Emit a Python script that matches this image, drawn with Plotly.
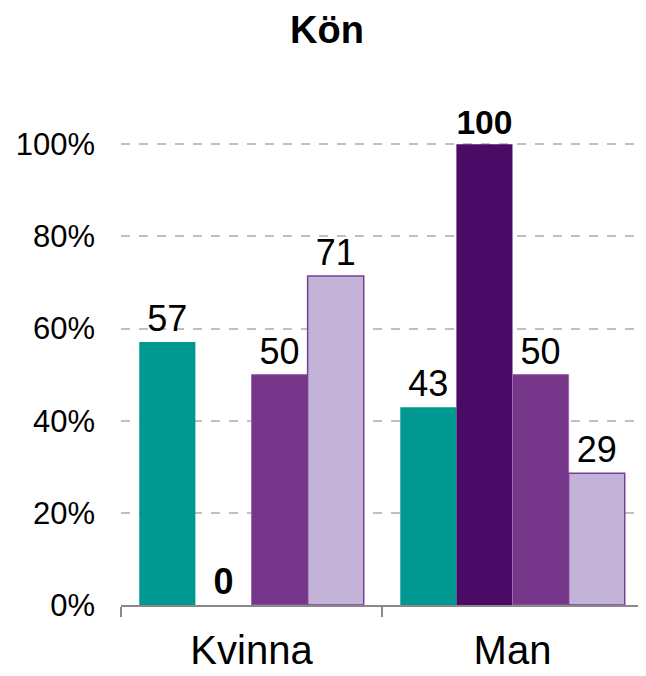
import plotly.graph_objects as go

categories = ["Kvinna", "Man"]
series_names = ["Serie 1", "Serie 2", "Serie 3", "Serie 4"]
series_values = [
    [57.1, 42.9],
    [0.0, 100.0],
    [50.0, 50.0],
    [71.4, 28.6],
]
bar_colors = ["#009992", "#490B66", "#763689", "#C4B3D9"]
bar_lines = ["#009992", "#490B66", "#9A6AAE", "#7B3E92"]
line_widths = [0, 0, 1, 1.5]
bold_label = [False, True, False, False]

fig = go.Figure()
for name, vals, col, lcol, lw, bold in zip(series_names, series_values, bar_colors,
                                          bar_lines, line_widths, bold_label):
    labels = [f"<b>{round(v)}</b>" if bold else f"{round(v)}" for v in vals]
    fig.add_trace(go.Bar(
        x=categories, y=[v / 100 for v in vals], name=name,
        marker=dict(color=col, line=dict(color=lcol, width=lw)),
        text=labels, textposition="outside", cliponaxis=False,
        textfont=dict(family="Liberation Sans, Arial", size=36, color="#000000"),
    ))

# page body adds an 8px margin, so the figure is a bit smaller than the window
fig.update_layout(
    width=638, height=668,
    barmode="group", bargap=0.14, bargroupgap=0,
    showlegend=False,
    plot_bgcolor="white", paper_bgcolor="white",
    margin=dict(l=113, r=3, t=127, b=71),
    title=dict(text="<b>Kön</b>", x=0.5, xanchor="center", y=0.968, yanchor="middle",
               font=dict(family="Liberation Sans, Arial", size=38, color="#000000")),
    font=dict(family="Liberation Sans, Arial", color="#000000"),
)
fig.update_xaxes(
    showline=True, linecolor="#898989", linewidth=1.5, automargin=False,
    ticks="outside", tickson="boundaries", ticklen=10, tickcolor="#898989", tickwidth=1.5,
    tickfont=dict(size=40, color="#000000"), ticklabelstandoff=9,
)
fig.update_yaxes(
    range=[0, 1.02], tickformat=".0%", tickvals=[0, 0.2, 0.4, 0.6, 0.8, 1.0], automargin=False,
    showgrid=True, gridcolor="#C0C0C0", griddash="dash", gridwidth=1.5,
    zeroline=False, showline=False,
    tickfont=dict(size=31, color="#000000"), ticklabelstandoff=25,
)

fig.write_html("out.html")
